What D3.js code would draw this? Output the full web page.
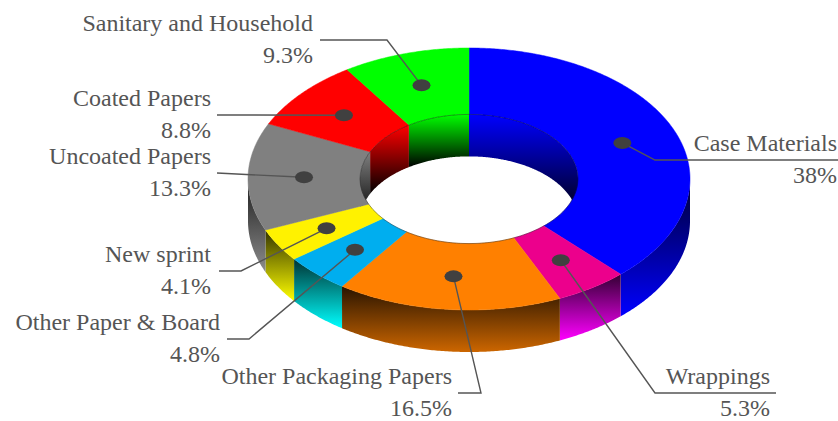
<!DOCTYPE html>
<html>
<head>
<meta charset="utf-8">
<script src="https://cdn.jsdelivr.net/npm/d3@7"></script>
<style>
  html, body { margin: 0; padding: 0; background: #ffffff; }
  svg { display: block; }
  svg text { font-family: "Liberation Serif", "Times New Roman", serif; font-size: 24px; fill: #555555; }
</style>
</head>
<body>
<svg id="chart" width="838" height="421"></svg>
<script>
// ---- data -------------------------------------------------------------
const categories = [
  "Case Materials", "Wrappings", "Other Packaging Papers", "Other Paper & Board",
  "New sprint", "Uncoated Papers", "Coated Papers", "Sanitary and Household"
];
const values = [38, 5.3, 16.5, 4.8, 4.1, 13.3, 8.8, 9.3];
const valueLabels = ["38%", "5.3%", "16.5%", "4.8%", "4.1%", "13.3%", "8.8%", "9.3%"];

// ---- styling ----------------------------------------------------------
const topColors  = ["#0000ff", "#ec008c", "#ff8000", "#00aeef", "#fff200", "#808080", "#ff0000", "#00ff00"];
const wallColors = ["#0000ff", "#ff00ff", "#cc6600", "#00ffff", "#ffff00", "#8c8c8c", "#ff0000", "#00ff00"];

// label placement: leader end point, optional elbow, right edge of the text
const labelLayout = [
  { elbow: [655, 160], end: [838, 160], textX: 837 },
  { elbow: [655, 393], end: [776, 393], textX: 770 },
  { elbow: [481, 393], end: [458, 393], textX: 452 },
  { elbow: [249, 339], end: [227, 339], textX: 220 },
  { elbow: [241, 271], end: [219, 271], textX: 211 },
  { elbow: null,       end: [217, 173], textX: 211 },
  { elbow: null,       end: [217, 115], textX: 211 },
  { elbow: [387, 40],  end: [320, 40],  textX: 313 }
];

// ---- geometry ---------------------------------------------------------
const cx = 469, cy = 179;      // centre of the top face
const RX = 221, RY = 131;      // outer ellipse radii
const inner = 109 / 221;       // inner radius as a fraction of the outer
const depth = 42;              // thickness of the ring
const midR = (1 + inner) / 2;

const x = d3.scaleLinear().domain([-1, 1]).range([cx - RX, cx + RX]);
const y = d3.scaleLinear().domain([-1, 1]).range([cy + RY, cy - RY]);

const P = (r, a, dz) => [x(r * Math.sin(a)), y(r * Math.cos(a)) + dz];
function arcPts(r, a0, a1, dz) {
  const n = Math.max(2, Math.ceil(Math.abs(a1 - a0) / (Math.PI / 360)));
  return d3.range(n + 1).map(i => P(r, a0 + (a1 - a0) * i / n, dz));
}
const line = d3.line();
const closed = pts => line(pts) + "Z";

const rows = categories.map((c, i) => ({ name: c, value: values[i], label: valueLabels[i], i }));
const arcs = d3.pie().sort(null).value(d => d.value).startAngle(0).endAngle(2 * Math.PI)(rows);

const svg = d3.select("#chart");
const defs = svg.append("defs");

arcs.forEach(a => {
  const i = a.data.i;
  const wg = defs.append("linearGradient").attr("id", "wall" + i)
    .attr("x1", 0).attr("y1", 0).attr("x2", 0).attr("y2", 1);
  wg.append("stop").attr("offset", 0).attr("stop-color", d3.interpolateRgb("#000000", wallColors[i])(0.2));
  wg.append("stop").attr("offset", 1).attr("stop-color", wallColors[i]);
  const ig = defs.append("linearGradient").attr("id", "inner" + i)
    .attr("x1", 0).attr("y1", 0).attr("x2", 0).attr("y2", 1);
  ig.append("stop").attr("offset", 0).attr("stop-color", topColors[i]);
  ig.append("stop").attr("offset", 1).attr("stop-color", "#000000");
});

// outer walls on the near half
const gWalls = svg.append("g");
arcs.forEach(a => {
  const b0 = Math.max(a.startAngle, Math.PI / 2), b1 = Math.min(a.endAngle, 3 * Math.PI / 2);
  if (b1 <= b0) return;
  const pts = arcPts(1, b0, b1, 0).concat(arcPts(1, b1, b0, depth));
  gWalls.append("path").attr("d", closed(pts))
    .attr("fill", `url(#wall${a.data.i})`);
});

// inner walls seen through the hole on the far half
const gInner = svg.append("g");
arcs.forEach(a => {
  [[0, Math.PI / 2], [3 * Math.PI / 2, 2 * Math.PI]].forEach(([lo, hi]) => {
    const c0 = Math.max(a.startAngle, lo), c1 = Math.min(a.endAngle, hi);
    if (c1 <= c0) return;
    const pts = arcPts(inner, c0, c1, 0).concat(arcPts(inner, c1, c0, depth));
    gInner.append("path").attr("d", closed(pts))
      .attr("fill", `url(#inner${a.data.i})`);
  });
});

// top faces
const gTop = svg.append("g");
arcs.forEach(a => {
  const pts = arcPts(1, a.startAngle, a.endAngle, 0).concat(arcPts(inner, a.endAngle, a.startAngle, 0));
  gTop.append("path").attr("d", closed(pts))
    .attr("fill", topColors[a.data.i])
    .attr("stroke", topColors[a.data.i]).attr("stroke-width", 0.5);
});

// rim of the hole
svg.append("ellipse")
  .attr("cx", cx).attr("cy", cy)
  .attr("rx", RX * inner).attr("ry", RY * inner)
  .attr("fill", "none").attr("stroke", "rgba(0,0,0,0.55)").attr("stroke-width", 0.7);

// leaders, markers and labels
const gLab = svg.append("g");
const ink = "#555555";
arcs.forEach(a => {
  const i = a.data.i, L = labelLayout[i];
  const mid = (a.startAngle + a.endAngle) / 2;
  const dot = P(midR, mid, 0);
  const pts = [dot];
  if (L.elbow) pts.push(L.elbow);
  pts.push(L.end);
  gLab.append("path").attr("d", line(pts))
    .attr("fill", "none").attr("stroke", ink).attr("stroke-width", 1.4);
  gLab.append("ellipse").attr("cx", dot[0]).attr("cy", dot[1])
    .attr("rx", 9).attr("ry", 6).attr("fill", "#404040");
  const ly = L.end[1];
  gLab.append("text").attr("x", L.textX).attr("y", ly - 9)
    .attr("text-anchor", "end").text(a.data.name);
  gLab.append("text").attr("x", L.textX).attr("y", ly + 23)
    .attr("text-anchor", "end").text(a.data.label);
});
</script>
</body>
</html>
